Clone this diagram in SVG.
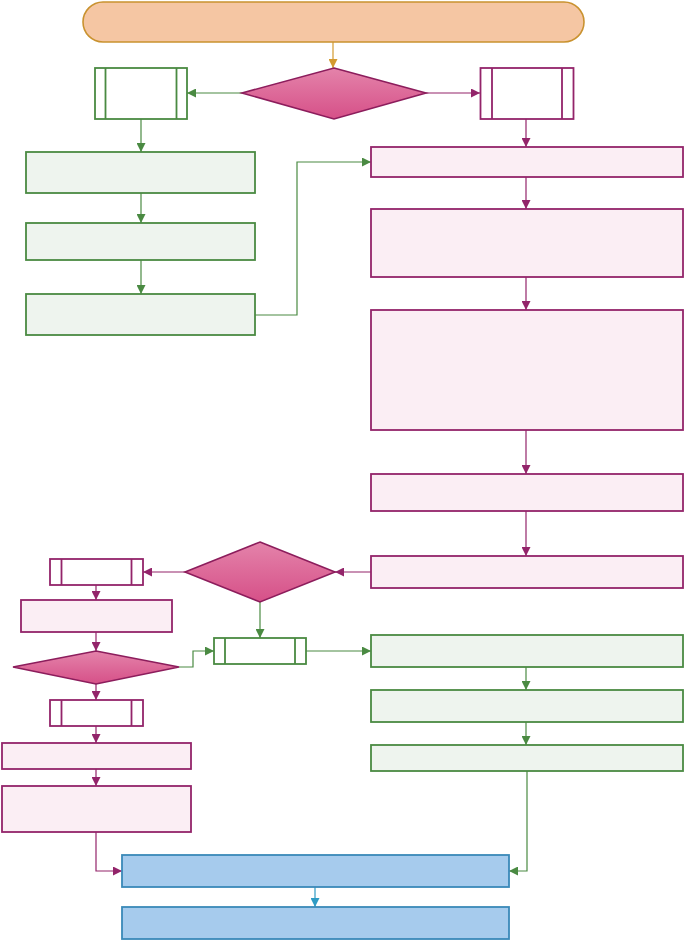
<svg xmlns="http://www.w3.org/2000/svg" width="686" height="941" viewBox="0 0 686 941">
<style>
.bg{fill:#ffffff}
.term{fill:#f5c6a3;stroke:#c9922f;stroke-width:1.6}
.dec{fill:url(#pinkgrad);stroke:#8c1d5c;stroke-width:1.6}
.gbox{fill:#eef4ee;stroke:#4a8a42;stroke-width:1.8}
.gsub{fill:#ffffff;stroke:#4a8a42;stroke-width:1.8}
.pbox{fill:#fbeef4;stroke:#93246a;stroke-width:1.8}
.psub{fill:#ffffff;stroke:#93246a;stroke-width:1.8}
.bbox{fill:#a6cbed;stroke:#3a89b8;stroke-width:1.8}
.cg{fill:none;stroke:#4a8a42;stroke-width:1.2}
.cp{fill:none;stroke:#93246a;stroke-width:1.2}
.co{fill:none;stroke:#d39a30;stroke-width:1.2}
.cb{fill:none;stroke:#2f9bc4;stroke-width:1.2}
.gl{stroke:#4a8a42;stroke-width:1.8}
.pl{stroke:#93246a;stroke-width:1.8}
</style>
<defs>
<linearGradient id="pinkgrad" x1="0" y1="0" x2="0" y2="1">
<stop offset="0" stop-color="#e483aa"/>
<stop offset="1" stop-color="#d65088"/>
</linearGradient>
<marker id="ag" viewBox="0 0 10 10" refX="10" refY="5" markerWidth="10" markerHeight="9" markerUnits="userSpaceOnUse" orient="auto"><path d="M0,0 L10,5 L0,10 z" fill="#4a8a42"/></marker>
<marker id="ap" viewBox="0 0 10 10" refX="10" refY="5" markerWidth="10" markerHeight="9" markerUnits="userSpaceOnUse" orient="auto"><path d="M0,0 L10,5 L0,10 z" fill="#93246a"/></marker>
<marker id="ao" viewBox="0 0 10 10" refX="10" refY="5" markerWidth="10" markerHeight="9" markerUnits="userSpaceOnUse" orient="auto"><path d="M0,0 L10,5 L0,10 z" fill="#d39a30"/></marker>
<marker id="ab" viewBox="0 0 10 10" refX="10" refY="5" markerWidth="10" markerHeight="9" markerUnits="userSpaceOnUse" orient="auto"><path d="M0,0 L10,5 L0,10 z" fill="#2f9bc4"/></marker>
</defs>
<rect class="bg" x="0" y="0" width="686" height="941"/>

<g id="connectors">
<path class="co" d="M333,42 V68" marker-end="url(#ao)"/>
<path class="cg" d="M242,93 H187" marker-end="url(#ag)"/>
<path class="cp" d="M426,93 H480" marker-end="url(#ap)"/>
<path class="cg" d="M141,119 V152" marker-end="url(#ag)"/>
<path class="cg" d="M141,193 V223" marker-end="url(#ag)"/>
<path class="cg" d="M141,260 V294" marker-end="url(#ag)"/>
<path class="cg" d="M255,315 H297 V162 H371" marker-end="url(#ag)"/>
<path class="cp" d="M526,119 V147" marker-end="url(#ap)"/>
<path class="cp" d="M526,177 V209" marker-end="url(#ap)"/>
<path class="cp" d="M526,277 V310" marker-end="url(#ap)"/>
<path class="cp" d="M526,430 V474" marker-end="url(#ap)"/>
<path class="cp" d="M526,511 V556" marker-end="url(#ap)"/>
<path class="cp" d="M371,572 H335" marker-end="url(#ap)"/>
<path class="cp" d="M185,572 H143" marker-end="url(#ap)"/>
<path class="cg" d="M260,602 V638" marker-end="url(#ag)"/>
<path class="cp" d="M96,585 V600" marker-end="url(#ap)"/>
<path class="cp" d="M96,632 V651" marker-end="url(#ap)"/>
<path class="cg" d="M179,667 H193 V651 H214" marker-end="url(#ag)"/>
<path class="cg" d="M306,651 H371" marker-end="url(#ag)"/>
<path class="cg" d="M526,667 V690" marker-end="url(#ag)"/>
<path class="cg" d="M526,722 V745" marker-end="url(#ag)"/>
<path class="cp" d="M96,684 V700" marker-end="url(#ap)"/>
<path class="cp" d="M96,726 V743" marker-end="url(#ap)"/>
<path class="cp" d="M96,769 V786" marker-end="url(#ap)"/>
<path class="cp" d="M96,832 V871 H122" marker-end="url(#ap)"/>
<path class="cg" d="M527,771 V871 H509" marker-end="url(#ag)"/>
<path class="cb" d="M315,887 V907" marker-end="url(#ab)"/>
</g>

<g id="start"><rect class="term" x="83" y="2" width="501" height="40" rx="20" ry="20"/></g>
<g id="decision1"><polygon class="dec" points="334,68 426,93 334,119 242,93"/></g>
<g id="sub-left"><rect class="gsub" x="95" y="68" width="92" height="51"/><path class="gl" d="M105.5,68 V119 M176.5,68 V119"/></g>
<g id="sub-right"><rect class="psub" x="480.5" y="68" width="93" height="51"/><path class="pl" d="M492,68 V119 M562,68 V119"/></g>

<g id="g1"><rect class="gbox" x="26" y="152" width="229" height="41"/></g>
<g id="g2"><rect class="gbox" x="26" y="223" width="229" height="37"/></g>
<g id="g3"><rect class="gbox" x="26" y="294" width="229" height="41"/></g>

<g id="p1"><rect class="pbox" x="371" y="147" width="312" height="30"/></g>
<g id="p2"><rect class="pbox" x="371" y="209" width="312" height="68"/></g>
<g id="p3"><rect class="pbox" x="371" y="310" width="312" height="120"/></g>
<g id="p4"><rect class="pbox" x="371" y="474" width="312" height="37"/></g>
<g id="p5"><rect class="pbox" x="371" y="556" width="312" height="32"/></g>

<g id="decision2"><polygon class="dec" points="260,542 335,572 260,602 185,572"/></g>
<g id="sub-l2"><rect class="psub" x="50" y="559" width="93" height="26"/><path class="pl" d="M61.5,559 V585 M131.5,559 V585"/></g>
<g id="lp1"><rect class="pbox" x="21" y="600" width="151" height="32"/></g>
<g id="decision3"><polygon class="dec" points="96,651 179,667 96,684 13,667"/></g>
<g id="sub-l3"><rect class="psub" x="50" y="700" width="93" height="26"/><path class="pl" d="M61.5,700 V726 M131.5,700 V726"/></g>
<g id="lp2"><rect class="pbox" x="2" y="743" width="189" height="26"/></g>
<g id="lp3"><rect class="pbox" x="2" y="786" width="189" height="46"/></g>

<g id="sub-mid"><rect class="gsub" x="214" y="638" width="92" height="26"/><path class="gl" d="M225,638 V664 M295,638 V664"/></g>
<g id="rg1"><rect class="gbox" x="371" y="635" width="312" height="32"/></g>
<g id="rg2"><rect class="gbox" x="371" y="690" width="312" height="32"/></g>
<g id="rg3"><rect class="gbox" x="371" y="745" width="312" height="26"/></g>

<g id="end1"><rect class="bbox" x="122" y="855" width="387" height="32"/></g>
<g id="end2"><rect class="bbox" x="122" y="907" width="387" height="32"/></g>
</svg>
